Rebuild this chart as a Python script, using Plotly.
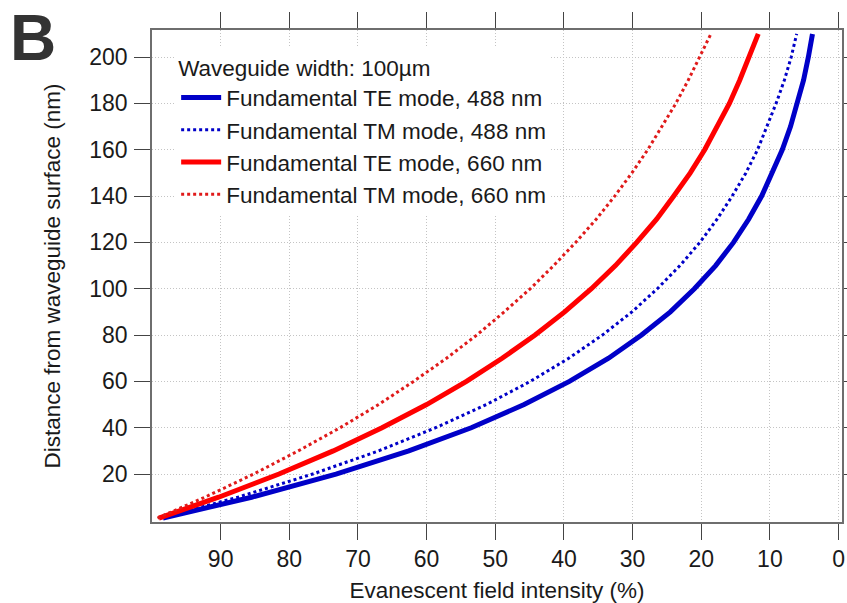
import plotly.graph_objects as go

# Distance from waveguide surface (nm)
distance_nm = [1, 10, 20, 30, 40, 50, 60, 70, 80, 90, 100, 110, 120, 130, 140,
               150, 160, 170, 180, 190, 200, 210]

# Evanescent field intensity (%)
te_488 = [98.4, 85.5, 73.2, 62.6, 53.5, 45.8, 39.2, 33.5, 28.7, 24.5, 21.0, 17.9,
          15.3, 13.1, 11.2, 9.6, 8.2, 7.0, 6.0, 5.1, 4.4, 3.8]
tm_488 = [98.7, 87.5, 76.6, 67.0, 58.7, 51.3, 44.9, 39.3, 34.4, 30.1, 26.4, 23.1,
          20.2, 17.7, 15.5, 13.5, 11.8, 10.4, 9.1, 7.9, 6.9, 6.1]
te_660 = [99.0, 90.3, 81.5, 73.6, 66.5, 60.0, 54.2, 49.0, 44.2, 39.9, 36.0, 32.5,
          29.4, 26.5, 24.0, 21.6, 19.5, 17.6, 15.9, 14.4, 13.0, 11.7]
tm_660 = [99.2, 92.3, 85.2, 78.7, 72.6, 67.0, 61.9, 57.1, 52.7, 48.7, 44.9, 41.5,
          38.3, 35.3, 32.6, 30.1, 27.8, 25.7, 23.7, 21.9, 20.2, 18.6]

series_names = ["Fundamental TE mode, 488 nm", "Fundamental TM mode, 488 nm",
                "Fundamental TE mode, 660 nm", "Fundamental TM mode, 660 nm"]

x_ticks = [90, 80, 70, 60, 50, 40, 30, 20, 10, 0]
y_ticks = [20, 40, 60, 80, 100, 120, 140, 160, 180, 200]

FONT = "Liberation Sans, Arial, sans-serif"

fig = go.Figure()
styles = [
    (te_488, "#0000c8", 5, "solid"),
    (tm_488, "#0000c8", 3, "3px,3px"),
    (te_660, "#ff0000", 5, "solid"),
    (tm_660, "#e01a1a", 3, "3px,3px"),
]
for (vals, color, w, dash), name in zip(styles, series_names):
    fig.add_trace(go.Scatter(x=vals, y=distance_nm, mode="lines", name=name,
                             line=dict(color=color, width=w, dash=dash)))

axis_common = dict(
    showline=True, linecolor="#6e6e6e", linewidth=1.5, mirror="ticks",
    ticks="outside", ticklen=16, tickwidth=1.3, tickcolor="#444",
    showgrid=True, gridcolor="#c4c4c4", griddash="1px,2px", gridwidth=1,
    zeroline=False, automargin=False,
    tickfont=dict(family=FONT, size=23, color="#1a1a1a"),
)

fig.update_xaxes(range=[100, -0.5], tickvals=x_ticks, **axis_common,
                 title=dict(text="Evanescent field intensity (%)",
                            font=dict(family=FONT, size=22.5, color="#1a1a1a"),
                            standoff=12))
fig.update_yaxes(range=[-0.7, 211.7], tickvals=y_ticks, ticklabelstandoff=2,
                 **axis_common,
                 title=dict(text="Distance from waveguide surface (nm)",
                            font=dict(family=FONT, size=22.5, color="#1a1a1a"),
                            standoff=22))

fig.add_annotation(text="<b>B</b>", xref="paper", yref="paper",
                   x=-0.2085, y=0.984, xanchor="left", yanchor="middle",
                   showarrow=False, font=dict(family=FONT, size=64, color="#333333"))

fig.update_layout(
    width=847, height=603,
    margin=dict(l=152, r=5, t=30, b=81),
    paper_bgcolor="white", plot_bgcolor="white",
    font=dict(family=FONT, size=22, color="#1a1a1a"),
    legend=dict(x=0.035, y=0.965, xanchor="left", yanchor="top",
                bgcolor="white", borderwidth=0,
                title=dict(text="Waveguide width: 100µm",
                           font=dict(family=FONT, size=22.5, color="#1a1a1a")),
                font=dict(family=FONT, size=22.5, color="#1a1a1a"),
                tracegroupgap=0, itemwidth=40),
    showlegend=True,
)

# Remove the page's default body margin so the figure fills the window exactly.
fig.write_html("out.html",
               config={"displayModeBar": False},
               post_script="document.body.style.margin='0';")
